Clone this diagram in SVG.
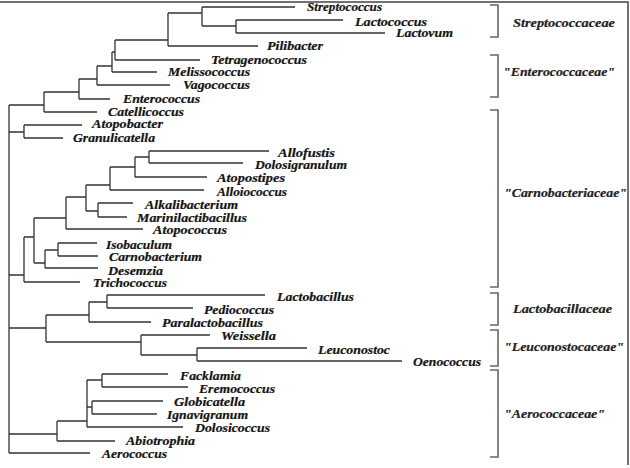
<svg xmlns="http://www.w3.org/2000/svg" width="630" height="468" viewBox="0 0 630 468">
<style>
.t{font-family:"Liberation Serif","Times New Roman",serif;font-weight:bold;font-style:italic;font-size:11.5px;fill:#151515;stroke:#151515;stroke-width:0.2}
.f{font-family:"Liberation Serif","Times New Roman",serif;font-weight:bold;font-style:italic;font-size:11.5px;fill:#222;stroke:#222;stroke-width:0.2}
.br{fill:none;stroke:#333;stroke-width:1.3}
.bk{fill:none;stroke:#666;stroke-width:1.6}
.fr{fill:none;stroke:#444;stroke-width:1.5}
</style>
<rect width="630" height="468" fill="#fff"/>
<path class="fr" d="M0 2H628V465"/>
<g id="connectors">
<path class="br" d="M9 105V453 M9 105H44 M9 132H24 M9 275H24 M9 328H46 M9 434H57 M9 453H90"/>
<path class="br" d="M44 92V112 M44 92H79 M44 112H97 M79 79V99 M79 79H97 M79 99H110 M97 66V85 M97 66H112 M97 85H170 M112 52V72 M112 52H115 M112 72H157 M115 40V60 M115 40H168 M115 60H200 M168 13V46 M168 13H202 M168 46H258 M202 7V26 M202 7H295 M202 26H236 M236 20V33 M236 20H343 M236 33H385"/>
<path class="br" d="M24 125V138 M24 125H82 M24 138H63"/>
<path class="br" d="M24 237V282 M24 237H34 M24 282H80 M34 218V263 M34 218H66 M34 263H45 M66 197V229 M66 197H86 M66 229H143 M86 185V211 M86 185H110 M86 211H98 M110 167V190 M110 167H135 M110 190H204 M135 157V177 M135 157H149 M135 177H207 M149 151V163 M149 151H269 M149 163H243 M98 203V217 M98 203H133 M98 217H127 M45 250V268 M45 250H58 M45 268H98 M58 243V256 M58 243H97 M58 256H98"/>
<path class="br" d="M46 315V342 M46 315H89 M46 342H141 M89 302V322 M89 302H107 M89 322H151 M107 295V308 M107 295H265 M107 308H193 M141 335V355 M141 335H210 M141 355H197 M197 348V361 M197 348H307 M197 361H402"/>
<path class="br" d="M57 421V441 M57 421H87 M57 441H115 M87 380V427 M87 380H102 M87 407H92 M87 427H183 M102 374V387 M102 374H168 M102 387H188 M92 401V414 M92 401H163 M92 414H157"/>
<path class="bk" d="M490 5H498V37H490 M490 55H498V97H490 M490 110H498V287H490 M490 293H498V325H490 M490 330H498V366H490 M490 370H498V457H490"/>
</g>
<g id="Streptococcus"><text class="t" x="307" y="11" textLength="75" lengthAdjust="spacingAndGlyphs">Streptococcus</text></g>
<g id="Lactococcus"><text class="t" x="355" y="26" textLength="72" lengthAdjust="spacingAndGlyphs">Lactococcus</text></g>
<g id="Lactovum"><text class="t" x="396" y="37" textLength="57" lengthAdjust="spacingAndGlyphs">Lactovum</text></g>
<g id="Pilibacter"><text class="t" x="267" y="50" textLength="56" lengthAdjust="spacingAndGlyphs">Pilibacter</text></g>
<g id="Tetragenococcus"><text class="t" x="211" y="64" textLength="96" lengthAdjust="spacingAndGlyphs">Tetragenococcus</text></g>
<g id="Melissococcus"><text class="t" x="168" y="76" textLength="82" lengthAdjust="spacingAndGlyphs">Melissococcus</text></g>
<g id="Vagococcus"><text class="t" x="183" y="89" textLength="67" lengthAdjust="spacingAndGlyphs">Vagococcus</text></g>
<g id="Enterococcus"><text class="t" x="123" y="103" textLength="77" lengthAdjust="spacingAndGlyphs">Enterococcus</text></g>
<g id="Catellicoccus"><text class="t" x="108" y="116" textLength="76" lengthAdjust="spacingAndGlyphs">Catellicoccus</text></g>
<g id="Atopobacter"><text class="t" x="92" y="128" textLength="71" lengthAdjust="spacingAndGlyphs">Atopobacter</text></g>
<g id="Granulicatella"><text class="t" x="73" y="142" textLength="82" lengthAdjust="spacingAndGlyphs">Granulicatella</text></g>
<g id="Allofustis"><text class="t" x="278" y="157" textLength="57" lengthAdjust="spacingAndGlyphs">Allofustis</text></g>
<g id="Dolosigranulum"><text class="t" x="255" y="169" textLength="92" lengthAdjust="spacingAndGlyphs">Dolosigranulum</text></g>
<g id="Atopostipes"><text class="t" x="217" y="182" textLength="68" lengthAdjust="spacingAndGlyphs">Atopostipes</text></g>
<g id="Alloiococcus"><text class="t" x="217" y="196" textLength="70" lengthAdjust="spacingAndGlyphs">Alloiococcus</text></g>
<g id="Alkalibacterium"><text class="t" x="145" y="209" textLength="93" lengthAdjust="spacingAndGlyphs">Alkalibacterium</text></g>
<g id="Marinilactibacillus"><text class="t" x="137" y="222" textLength="110" lengthAdjust="spacingAndGlyphs">Marinilactibacillus</text></g>
<g id="Atopococcus"><text class="t" x="153" y="234" textLength="74" lengthAdjust="spacingAndGlyphs">Atopococcus</text></g>
<g id="Isobaculum"><text class="t" x="106" y="249" textLength="66" lengthAdjust="spacingAndGlyphs">Isobaculum</text></g>
<g id="Carnobacterium"><text class="t" x="109" y="261" textLength="93" lengthAdjust="spacingAndGlyphs">Carnobacterium</text></g>
<g id="Desemzia"><text class="t" x="108" y="275" textLength="55" lengthAdjust="spacingAndGlyphs">Desemzia</text></g>
<g id="Trichococcus"><text class="t" x="93" y="287" textLength="74" lengthAdjust="spacingAndGlyphs">Trichococcus</text></g>
<g id="Lactobacillus"><text class="t" x="277" y="301" textLength="77" lengthAdjust="spacingAndGlyphs">Lactobacillus</text></g>
<g id="Pediococcus"><text class="t" x="204" y="314" textLength="70" lengthAdjust="spacingAndGlyphs">Pediococcus</text></g>
<g id="Paralactobacillus"><text class="t" x="162" y="327" textLength="101" lengthAdjust="spacingAndGlyphs">Paralactobacillus</text></g>
<g id="Weissella"><text class="t" x="221" y="340" textLength="55" lengthAdjust="spacingAndGlyphs">Weissella</text></g>
<g id="Leuconostoc"><text class="t" x="318" y="354" textLength="72" lengthAdjust="spacingAndGlyphs">Leuconostoc</text></g>
<g id="Oenococcus"><text class="t" x="413" y="366" textLength="68" lengthAdjust="spacingAndGlyphs">Oenococcus</text></g>
<g id="Facklamia"><text class="t" x="180" y="380" textLength="61" lengthAdjust="spacingAndGlyphs">Facklamia</text></g>
<g id="Eremococcus"><text class="t" x="199" y="393" textLength="76" lengthAdjust="spacingAndGlyphs">Eremococcus</text></g>
<g id="Globicatella"><text class="t" x="174" y="406" textLength="71" lengthAdjust="spacingAndGlyphs">Globicatella</text></g>
<g id="Ignavigranum"><text class="t" x="167" y="419" textLength="81" lengthAdjust="spacingAndGlyphs">Ignavigranum</text></g>
<g id="Dolosicoccus"><text class="t" x="195" y="432" textLength="75" lengthAdjust="spacingAndGlyphs">Dolosicoccus</text></g>
<g id="Abiotrophia"><text class="t" x="126" y="445" textLength="69" lengthAdjust="spacingAndGlyphs">Abiotrophia</text></g>
<g id="Aerococcus"><text class="t" x="102" y="458" textLength="65" lengthAdjust="spacingAndGlyphs">Aerococcus</text></g>
<g id="fam-Streptococcaceae"><text class="f" x="513" y="27" textLength="102" lengthAdjust="spacingAndGlyphs">Streptococcaceae</text></g>
<g id="fam-Enterococcaceae"><text class="f" x="503" y="76" textLength="112" lengthAdjust="spacingAndGlyphs">"Enterococcaceae"</text></g>
<g id="fam-Carnobacteriaceae"><text class="f" x="504" y="197" textLength="123" lengthAdjust="spacingAndGlyphs">"Carnobacteriaceae"</text></g>
<g id="fam-Lactobacillaceae"><text class="f" x="513" y="313" textLength="99" lengthAdjust="spacingAndGlyphs">Lactobacillaceae</text></g>
<g id="fam-Leuconostocaceae"><text class="f" x="504" y="351" textLength="120" lengthAdjust="spacingAndGlyphs">"Leuconostocaceae"</text></g>
<g id="fam-Aerococcaceae"><text class="f" x="504" y="418" textLength="101" lengthAdjust="spacingAndGlyphs">"Aerococcaceae"</text></g>
</svg>
